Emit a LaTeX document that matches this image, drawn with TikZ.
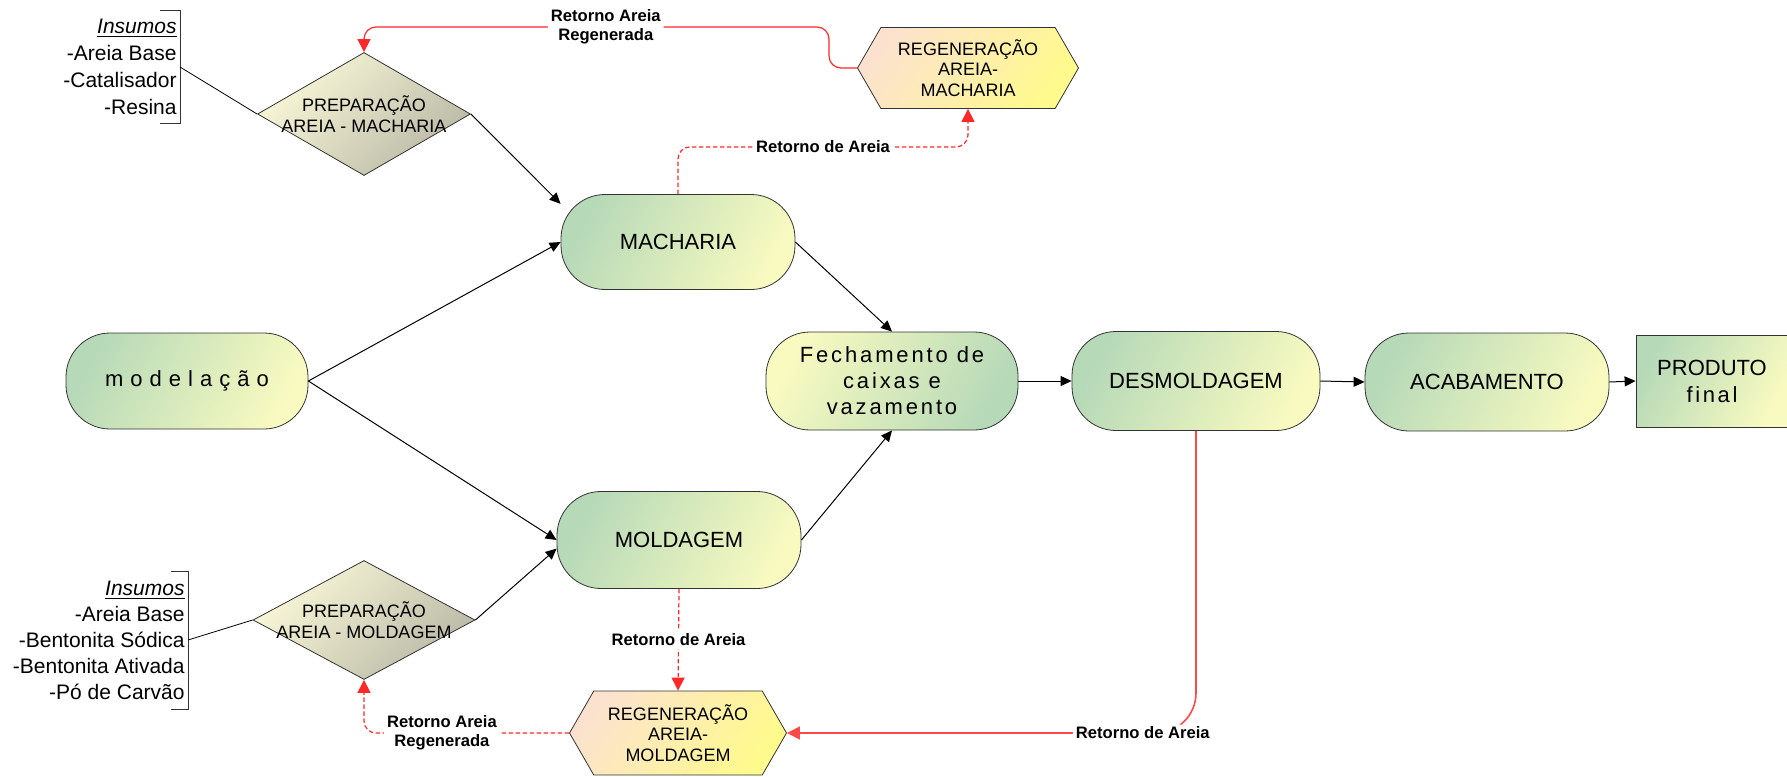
\documentclass[tikz,border=0pt]{standalone}
\usepackage{fontspec}
\setmainfont{Liberation Sans}
\usetikzlibrary{arrows.meta, positioning, calc, shapes.geometric, shapes.symbols}
\definecolor{verdeA}{RGB}{182,217,184}
\definecolor{verdeB}{RGB}{248,250,192}
\definecolor{creme}{RGB}{250,248,216}
\definecolor{cinza}{RGB}{186,185,166}
\definecolor{pessego}{RGB}{252,226,206}
\definecolor{amarelo}{RGB}{255,250,140}
\definecolor{retred}{RGB}{255,40,40}

\tikzset{
  etapa/.style={draw=black!80, rounded corners=22pt, minimum width=122pt, minimum height=48.5pt,
    top color=verdeA, bottom color=verdeB, shading angle=62, align=center,
    font=\fontsize{11}{13}\selectfont},
  etapainv/.style={etapa, top color=verdeB, bottom color=verdeA, shading angle=62},
  prep/.style={diamond, draw=black!80, top color=creme, bottom color=cinza, shading angle=45, inner sep=0pt},
  preptxt/.style={align=center, font=\fontsize{9}{10.3}\selectfont},
  regen/.style={signal, signal to=east and west, signal pointer angle=120, draw=black!80,
    top color=pessego, bottom color=amarelo, shading angle=55, align=center, inner sep=1pt,
    font=\fontsize{9}{10.3}\selectfont},
  insumos/.style={anchor=east, align=right, inner xsep=1.5pt, inner ysep=0pt,
    font=\fontsize{10.5}{13.5}\selectfont},
  seta/.style={-{Triangle[length=5.5pt,width=5pt]}, line width=0.5pt},
  retorno/.style={retred, line width=0.6pt, rounded corners=6pt, -{Triangle[length=6.5pt,width=6.5pt]}},
  tracejado/.style={dash pattern=on 2.2pt off 1.3pt},
  lbl/.style={fill=white, inner sep=1.5pt, align=center, text=black,
    font=\bfseries\fontsize{8.3}{9.6}\selectfont}
}

\begin{document}
\begin{tikzpicture}[x=0.5pt, y=-0.5pt]
  \useasboundingbox (0,0) rectangle (1787,776);

  % etapas
  \node[etapa, minimum width=121pt, minimum height=48pt] (model) at (187,381) {\addfontfeature{LetterSpace=32}modelação};
  \node[etapa, minimum width=117pt, minimum height=47.5pt] (mach) at (678,242) {MACHARIA};
  \node[etapa] (mold) at (679,540) {MOLDAGEM};
  \node[etapainv, minimum width=126pt, minimum height=49pt] (fech) at (892,381)
    {\addfontfeature{LetterSpace=13}Fechamento de\\\addfontfeature{LetterSpace=13}caixas e\\\addfontfeature{LetterSpace=13}vazamento};
  \node[etapa, minimum width=124pt, minimum height=49.5pt] (desm) at (1196,381) {DESMOLDAGEM};
  \node[etapa, minimum height=49pt] (acab) at (1487,382) {ACABAMENTO};
  \node[draw=black!80, top color=verdeA, bottom color=verdeB, shading angle=62, minimum width=76pt,
    minimum height=46pt, align=center, font=\fontsize{11}{13.5}\selectfont] (prod) at (1712,381)
    {PRODUTO\\\addfontfeature{LetterSpace=12}final};

  % preparacao e regeneracao
  \node[prep, minimum width=106.5pt, minimum height=61.5pt,
    label={[preptxt]center:{PREPARAÇÃO\\AREIA - MACHARIA}}] (prep1) at (364,114) {};
  \node[prep, minimum width=111pt, minimum height=59.5pt,
    label={[preptxt]center:{PREPARAÇÃO\\AREIA - MOLDAGEM}}] (prep2) at (364,620) {};
  \node[regen, minimum width=110.5pt, minimum height=40.5pt] (regM) at (968,68) {REGENERAÇÃO\\AREIA-\\MACHARIA};
  \node[regen, minimum width=108.5pt, minimum height=42pt] (regMo) at (678,733) {REGENERAÇÃO\\AREIA-\\MOLDAGEM};

  % insumos
  \node[insumos, minimum height=56pt] (insM) at (180,67)
    {\underline{\textit{Insumos}}\\-Areia Base\\-Catalisador\\-Resina};
  \node[insumos, minimum height=68.5pt, font=\fontsize{10.5}{13}\selectfont] (insMo) at (188,640)
    {\underline{\textit{Insumos}}\\-Areia Base\\-Bentonita Sódica\\-Bentonita Ativada\\-Pó de Carvão};
  \draw[black!80] ([xshift=-10pt]insM.north east) -- (insM.north east) -- (insM.south east) -- ([xshift=-10pt]insM.south east);
  \draw[black!80] ([xshift=-8.5pt]insMo.north east) -- (insMo.north east) -- (insMo.south east) -- ([xshift=-8.5pt]insMo.south east);

  % fluxo principal
  \draw (insM.east) -- (prep1.west);
  \draw (insMo.east) -- (prep2.west);
  \draw[seta] (prep1.east) -- (mach.162);
  \draw[seta] (prep2.east) -- (mold.184);
  \draw[seta] (model.east) -- (mach.west);
  \draw[seta] (model.east) -- (mold.west);
  \draw[seta] (mach.east) -- (fech.north);
  \draw[seta] (mold.east) -- (fech.south);
  \draw[seta] (fech.east) -- (desm.west);
  \draw[seta] (desm.east) -- (acab.west);
  \draw[seta] (acab.east) -- (prod.west);

  % retornos de areia
  \coordinate (dobra) at (829,27);
  \draw[retorno, tracejado] (mach.north) |- node[pos=0.75, lbl] {Retorno de Areia} ($(regM.south)+(0,38)$) -- (regM.south);
  \draw[retorno] (regM.west) -| (dobra) -| node[pos=0.24, lbl] {Retorno Areia\\Regenerada} (prep1.north);
  \draw[retorno, tracejado] (mold.south) -- node[lbl] {Retorno de Areia} (regMo.north);
  \draw[retorno, tracejado] (regMo.west) -| node[pos=0.31, lbl] {Retorno Areia\\Regenerada} (prep2.south);
  \draw[retorno, retred!85, line width=0.8pt, rounded corners=20pt] (desm.south) |- node[pos=0.565, lbl] {Retorno de Areia} (regMo.east);
\end{tikzpicture}
\end{document}
